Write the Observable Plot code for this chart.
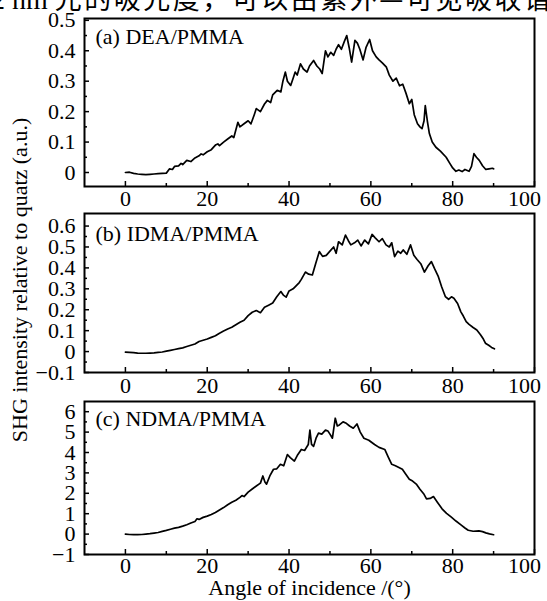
<!DOCTYPE html>
<html><head><meta charset="utf-8">
<script src="https://cdn.jsdelivr.net/npm/d3@7"></script>
<script src="https://cdn.jsdelivr.net/npm/@observablehq/plot@0.6"></script>
<style>
body{margin:0;background:#fff;}
#wrap{position:relative;width:547px;height:601px;overflow:hidden;background:#fff;font-family:"Liberation Serif",serif;color:#000;}
#wrap svg{position:absolute;left:0;}
.hdr{position:absolute;top:-22px;left:-9px;white-space:nowrap;font-size:27px;font-family:"Noto Sans CJK SC",sans-serif;letter-spacing:2.5px;}
.hdr span{font-family:"Liberation Serif",serif;letter-spacing:0;font-size:28px;}
.ylab{position:absolute;left:20px;top:280px;transform:translate(-50%,-50%) rotate(-90deg);white-space:nowrap;font-size:22px;}
</style></head><body><div id="wrap"></div><script>
// ---------- data ----------
const headerText = "光的吸光度，可以由紫外—可见吸收谱";
const yTitle = "SHG intensity relative to quatz (a.u.)";
const xTitle = "Angle of incidence /(°)";
const panelLabels = ["(a) DEA/PMMA", "(b) IDMA/PMMA", "(c) NDMA/PMMA"];

const angleA = [0,1,2,3,4,5,6,7,8,9,10,10.8,11.5,12,13,13.6,14,15,16,17,18,18.5,19,20,21,22,22.6,23,24,25,26,26.5,27.5,28,29,30,30.7,31.5,32,33,34,34.7,35.5,36,37.1,38,38.5,39.1,39.6,40.4,41,41.5,42,42.8,43.5,44.4,45,46,46.8,47.5,48.1,48.9,49.5,50.2,50.9,51.5,52.1,52.8,53.5,54.1,54.7,55.3,56.1,56.7,57.3,58.1,58.8,59.7,60.4,61.3,62,62.8,63.8,64.5,65.4,66.2,67,67.8,68.6,69.4,70,70.6,71.4,72,72.5,73,73.3,73.8,74.3,75,75.9,77,78.4,79.3,80,80.8,81.5,82.3,83,84,84.6,85.2,85.8,86.5,87.3,88.1,88.9,89.7,90];
const valueA = [0.000,0.001,-0.003,-0.005,-0.006,-0.007,-0.006,-0.005,-0.004,-0.003,-0.002,0.012,0.010,0.020,0.022,0.030,0.026,0.040,0.036,0.048,0.055,0.061,0.058,0.068,0.075,0.090,0.094,0.088,0.100,0.110,0.120,0.115,0.165,0.150,0.160,0.170,0.160,0.190,0.210,0.200,0.225,0.237,0.230,0.255,0.270,0.265,0.300,0.330,0.300,0.286,0.310,0.330,0.320,0.357,0.340,0.330,0.350,0.368,0.350,0.340,0.325,0.400,0.380,0.395,0.385,0.405,0.420,0.405,0.430,0.450,0.410,0.363,0.434,0.425,0.405,0.370,0.410,0.437,0.400,0.380,0.370,0.360,0.346,0.320,0.300,0.310,0.285,0.290,0.260,0.226,0.240,0.190,0.160,0.150,0.144,0.170,0.220,0.170,0.128,0.100,0.083,0.070,0.050,0.030,0.015,0.004,0.008,0.003,0.010,0.004,0.020,0.062,0.050,0.040,0.022,0.010,0.012,0.014,0.012];

const angleB = [0,1,2,3,4,5,6,7,8,9,10,11,12,13,14,15,16,17,18,19,20,21,22,23,24,25,26,27,28,29,30,31,32,33,34,35,36,37,38,38.6,39.3,40,41,41.9,42.5,43,44,44.8,45.7,46.5,47.4,48.2,49.1,50,50.9,51.5,52.1,53,53.8,54.5,55.1,56,56.8,57.6,58.5,59.4,60.3,61,62,62.8,63.7,64.5,65.1,65.8,66.6,67.3,67.9,68.8,69.7,70.5,71.3,72.2,73.1,74,74.8,75.6,76.5,77.3,78.2,79,79.7,80.3,81.2,82,82.6,83.3,84,85,85.9,86.8,87.5,88,88.8,89.5,90.2];
const valueB = [-0.003,-0.004,-0.005,-0.007,-0.008,-0.008,-0.007,-0.006,-0.004,-0.002,0.002,0.006,0.010,0.014,0.018,0.024,0.030,0.036,0.048,0.054,0.060,0.068,0.076,0.088,0.098,0.108,0.116,0.128,0.140,0.150,0.172,0.188,0.196,0.186,0.212,0.222,0.232,0.262,0.287,0.270,0.260,0.290,0.300,0.318,0.330,0.345,0.380,0.370,0.366,0.420,0.478,0.455,0.460,0.480,0.500,0.470,0.525,0.510,0.557,0.530,0.510,0.520,0.533,0.505,0.533,0.515,0.560,0.545,0.525,0.540,0.510,0.500,0.520,0.454,0.480,0.470,0.486,0.465,0.510,0.460,0.440,0.420,0.380,0.410,0.430,0.395,0.358,0.310,0.263,0.250,0.262,0.255,0.230,0.190,0.170,0.143,0.130,0.115,0.103,0.080,0.060,0.040,0.030,0.020,0.013];

const angleC = [0,1,2,3,4,5,6,7,8,9,10,11,12,13,14,15,16,17,17.5,18,19,20,21,22,23,24,25,26,27,28,28.5,29,30,31,32,33,33.6,34.1,34.5,35.3,36.2,37,37.9,38.7,39.6,40.3,41.3,42,43,43.8,44.7,45.1,45.5,46,46.6,47.2,48,48.9,49.5,50,50.6,51.3,51.8,52.3,53.2,54,54.8,55.7,56.6,57.4,58.3,59.5,60.9,62,63.4,64.2,65.1,66,67.7,68.5,69.4,70.2,71.1,72,73,73.6,74.5,75.3,76.3,77.4,78.5,79.6,80.8,82.1,83,83.8,85,86.4,87.3,88.1,89,90];
const valueC = [0.00,-0.02,-0.03,-0.03,-0.02,0.00,0.02,0.05,0.08,0.13,0.18,0.24,0.29,0.33,0.39,0.46,0.54,0.62,0.75,0.72,0.82,0.88,0.96,1.06,1.18,1.30,1.44,1.56,1.66,1.80,1.89,1.84,2.06,2.21,2.36,2.50,2.85,2.55,2.45,2.85,3.18,3.20,3.42,3.35,3.90,3.75,3.58,3.85,4.15,4.10,4.39,5.10,4.40,4.30,4.70,4.95,4.90,5.10,5.05,4.90,4.70,5.68,5.30,5.35,5.50,5.43,5.30,5.19,5.40,5.00,4.70,4.60,4.39,4.25,4.15,3.80,3.42,3.35,3.18,2.95,2.69,2.60,2.45,2.20,1.95,1.73,1.75,1.84,1.55,1.24,1.02,0.84,0.64,0.44,0.30,0.19,0.14,0.16,0.12,0.06,0.01,-0.03];

const xMajor = [0,20,40,60,80,100];
const xMinor = [10,30,50,70,90];
const yMajorA = [0,0.1,0.2,0.3,0.4,0.5];
const yMinorA = [0.05,0.15,0.25,0.35,0.45];
const yMajorB = [-0.1,0,0.1,0.2,0.3,0.4,0.5,0.6];
const yMinorB = [-0.05,0.05,0.15,0.25,0.35,0.45,0.55];
const yMajorC = [-1,0,1,2,3,4,5,6];
const yMinorC = [-0.5,0.5,1.5,2.5,3.5,4.5,5.5];

// ---------- layout ----------
const W = 547, ML = 84, MR = 13;
const FW = W - ML - MR;
const fmt = d => d < 0 ? "\u2212" + Math.abs(d) : String(d);

function panel({angles, values, yDomain, yMajor, yMinor, label, top, height, mt, mb, labelDy, xPad, title}) {
  const FH = height - mt - mb;
  const data = angles.map((a, i) => ({angle: a, value: values[i]}));
  const marks = [
    Plot.line(data, {x: "angle", y: "value", stroke: "black", strokeWidth: 1.7, strokeLinejoin: "round"}),
    Plot.tickY(yMajor, {y: d => d, stroke: "black", strokeWidth: 1.5, insetRight: FW - 5}),
    Plot.tickY(yMinor, {y: d => d, stroke: "black", strokeWidth: 1.5, insetRight: FW - 3}),
    Plot.tickX(xMajor, {x: d => d, stroke: "black", strokeWidth: 1.5, insetTop: FH - 5}),
    Plot.tickX(xMinor, {x: d => d, stroke: "black", strokeWidth: 1.5, insetTop: FH - 3}),
    Plot.axisY(yMajor, {tickSize: 0, tickPadding: 9, tickFormat: fmt, fontSize: 22, label: null}),
    Plot.axisX(xMajor.slice(0, 5), {tickSize: 0, tickPadding: xPad, tickFormat: fmt, fontSize: 22, label: null}),
    Plot.axisX(xMajor.slice(5), {tickSize: 0, tickPadding: xPad, tickFormat: fmt, fontSize: 22, label: null, dx: -10}),
    Plot.frame({stroke: "black", strokeWidth: 2}),
    Plot.text([label], {frameAnchor: "top-left", dx: 11, dy: labelDy, lineAnchor: "top", textAnchor: "start", fontSize: 22, fill: "black"})
  ];
  if (title) marks.push(Plot.text([title], {frameAnchor: "bottom", dy: 40, lineAnchor: "bottom", fontSize: 22, fill: "black"}));
  const svg = Plot.plot({
    width: W, height, marginLeft: ML, marginRight: MR, marginTop: mt, marginBottom: mb,
    x: {domain: [-10, 100], axis: null},
    y: {domain: yDomain, axis: null},
    style: {fontFamily: "Liberation Serif, serif", fontSize: "22px", color: "black", background: "transparent", overflow: "visible"},
    marks
  });
  svg.style.top = top + "px";
  return svg;
}

const wrap = document.getElementById("wrap");
const hdr = document.createElement("div");
hdr.className = "hdr";
hdr.innerHTML = "<span>2 nm </span>" + headerText;
wrap.appendChild(hdr);

wrap.appendChild(panel({angles: angleA, values: valueA, yDomain: [-0.046, 0.506], yMajor: yMajorA, yMinor: yMinorA,
  label: panelLabels[0], top: 0, height: 212, mt: 18, mb: 26, labelDy: 10, xPad: 4}));
wrap.appendChild(panel({angles: angleB, values: valueB, yDomain: [-0.1, 0.66], yMajor: yMajorB, yMinor: yMinorB,
  label: panelLabels[1], top: 212, height: 188, mt: 1, mb: 28, labelDy: 12, xPad: 5}));
wrap.appendChild(panel({angles: angleC, values: valueC, yDomain: [-1, 6.5], yMajor: yMajorC, yMinor: yMinorC,
  label: panelLabels[2], top: 400, height: 201, mt: 1, mb: 47, labelDy: 9, xPad: 3, title: xTitle}));

const yl = document.createElement("div");
yl.className = "ylab";
yl.textContent = yTitle;
wrap.appendChild(yl);
</script></body></html>
